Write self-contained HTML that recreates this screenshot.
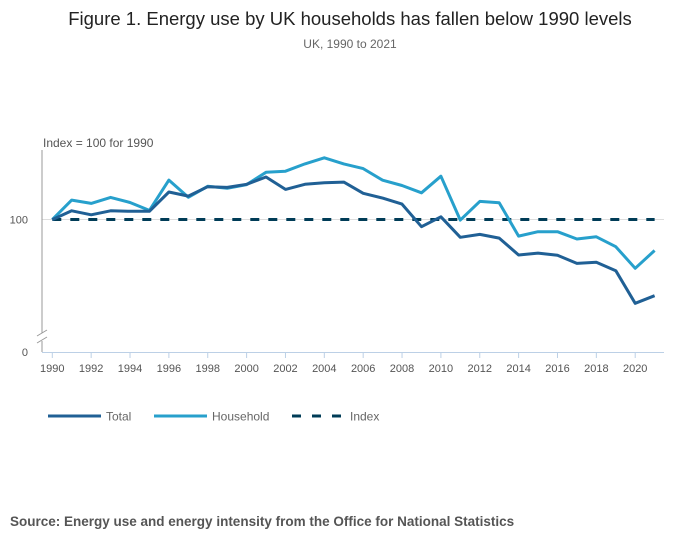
<!DOCTYPE html>
<html><head><meta charset="utf-8"><style>
body{margin:0;background:#fff;font-family:"Liberation Sans",sans-serif;}
svg{display:block}
</style></head><body>
<svg width="700" height="549" xmlns="http://www.w3.org/2000/svg">
<text x="350" y="25" text-anchor="middle" font-size="18.5" fill="#222">Figure 1. Energy use by UK households has fallen below 1990 levels</text>
<text x="350" y="48" text-anchor="middle" font-size="12" fill="#666">UK, 1990 to 2021</text>
<text x="43" y="147" font-size="12" fill="#555">Index = 100 for 1990</text>
<g id="plot"></g>
<g>
<line x1="48" y1="416" x2="101" y2="416" stroke="#206095" stroke-width="3"/>
<text x="106" y="420.5" font-size="12" fill="#666">Total</text>
<line x1="154" y1="416" x2="207" y2="416" stroke="#27a0cc" stroke-width="3"/>
<text x="212" y="420.5" font-size="12" fill="#666">Household</text>
<line x1="292" y1="416" x2="345" y2="416" stroke="#003c57" stroke-width="3" stroke-dasharray="9,11"/>
<text x="350" y="420.5" font-size="12" fill="#666">Index</text>
</g>
<text x="10" y="526" font-size="13.5" font-weight="bold" fill="#555">Source: Energy use and energy intensity from the Office for National Statistics</text>
</svg>
<script>
const years=[1990,1991,1992,1993,1994,1995,1996,1997,1998,1999,2000,2001,2002,2003,2004,2005,2006,2007,2008,2009,2010,2011,2012,2013,2014,2015,2016,2017,2018,2019,2020,2021];
const total=[100,106.6,103.6,106.6,106.2,106.2,120.8,117.7,124.8,124.3,126.6,132.1,122.8,126.6,127.8,128.3,119.8,116.2,111.7,94.6,102.1,86.6,88.8,86,73.2,74.7,73,66.9,67.7,61.4,36.8,42.5];
const household=[100,114.7,112.2,116.7,112.9,106.9,129.8,116.8,125.1,123.6,126.4,135.7,136.5,142,146.6,142,138.5,129.7,125.7,120.2,132.7,99.6,113.7,112.7,87.5,90.8,90.8,85.3,87,79.5,63.2,76.6];
const indexLevel=[100];
const yTicks=[0,100];
const NS="http://www.w3.org/2000/svg";
const g=document.getElementById('plot');
function x(yr){return 52.3+(yr-1990)*19.43;}
function y(v){return 352-v*1.3245;}
function mk(t,a){const e=document.createElementNS(NS,t);for(const k in a)e.setAttribute(k,a[k]);g.appendChild(e);return e;}
let gl=mk('line',{x1:42,x2:664,y1:y(100),y2:y(100),stroke:'#ddd','stroke-width':1});


let ya=mk('path',{d:'M42,150V333 M42,341V352',stroke:'#999','stroke-width':1,fill:'none'});


let br=mk('path',{d:'M37,336L47,330 M37,343L47,337',stroke:'#999','stroke-width':1,fill:'none'});


let xa=mk('line',{x1:42,x2:664,y1:352.5,y2:352.5,stroke:'#bcd0e6','stroke-width':1});


yTicks.forEach(v=>{
 const t=mk('text',{x:28,y:y(v)+4,'font-size':11,fill:'#555','text-anchor':'end'});
 t.textContent=v;
 
 
});
years.forEach(yr=>{
 if(yr%2)return;
 const tk=mk('line',{x1:x(yr),x2:x(yr),y1:352,y2:358,stroke:'#bcd0e6','stroke-width':1});
 
 
 const t=mk('text',{x:x(yr),y:372,'font-size':11,fill:'#555','text-anchor':'middle'});
 t.textContent=yr;
 
 
});
let il=mk('line',{x1:x(1990),x2:x(2021),y1:y(indexLevel[0]),y2:y(indexLevel[0]),stroke:'#003c57','stroke-width':3,'stroke-dasharray':'9,9'});


function series(vals,col,name){
 const d=vals.map((v,i)=>(i?'L':'M')+x(years[i]).toFixed(1)+','+y(v).toFixed(1)).join('');
 const p=mk('path',{d:d,stroke:col,'stroke-width':3,fill:'none','stroke-linejoin':'round'});
 
 
}
series(household,'#27a0cc','household-line');
series(total,'#206095','total-line');
</script>
</body></html>
